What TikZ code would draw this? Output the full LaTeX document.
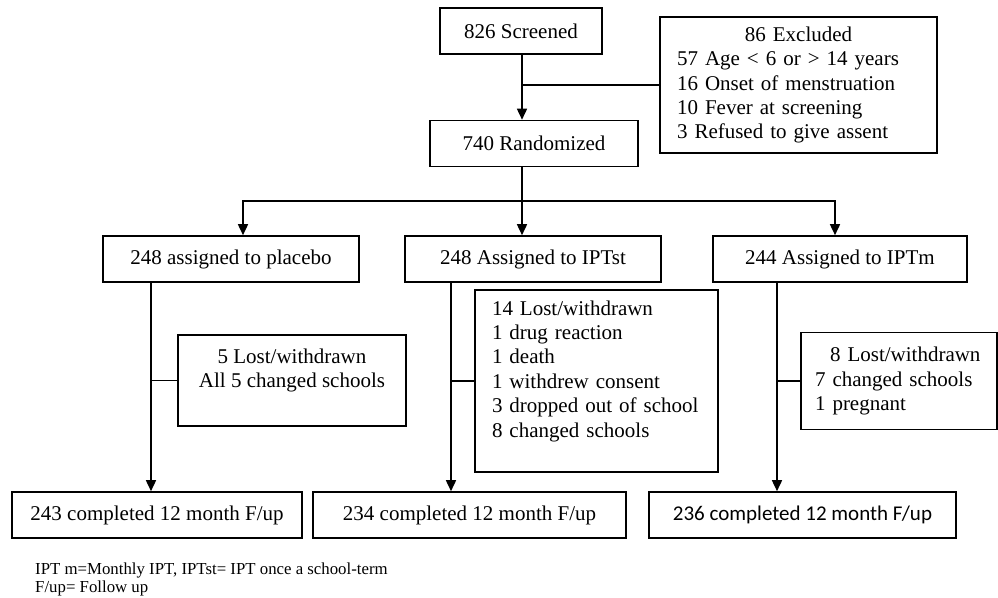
\documentclass[tikz,border=0pt]{standalone}
\usepackage{fontspec}
\setmainfont{Liberation Serif}
\newfontfamily\carlito{Carlito}
\usetikzlibrary{positioning,arrows.meta}

\begin{document}
\begin{tikzpicture}[
        x=1pt, y=-1pt,
        box/.style={draw, line width=1.6pt, inner sep=0pt, minimum height=46pt},
        listbox/.style={draw, line width=1.6pt, inner xsep=17pt, inner ysep=0pt, align=left},
        solidline/.style={line width=1.6pt},
        arrowline/.style={solidline, -{Triangle[length=11pt,width=10pt]}},
        font=\fontsize{21}{24.4}\selectfont
    ]
    \useasboundingbox (0,0) rectangle (998,597);

    % Screening and randomisation
    \node[box, minimum width=162pt] (screened) at (521,31) {826 Screened};
    \node[box, minimum width=208pt] (randomized) at (534,143.5) {740 Randomized};
    \node[listbox, text width=243pt, minimum height=136pt] (excluded) at (798.5,85)
        {\makebox[\linewidth][c]{86 Excluded}\\57 Age < 6 or > 14 years\\16 Onset of menstruation\\10 Fever at screening\\3 Refused to give assent};

    \coordinate (trunk) at (522,201);
    \draw[arrowline] (screened.south -| trunk) -- (randomized.north -| trunk);
    \draw[solidline] (excluded.west) -- (excluded.west -| trunk);

    % Arms
    \node[box, minimum width=256pt] (placebo) at (231,259) {248 assigned to placebo};
    \node[box, minimum width=256pt] (iptst) at (533,259) {248 Assigned to IPTst};
    \node[box, minimum width=254pt] (iptm) at (840,259) {244 Assigned to IPTm};

    \coordinate (splitL) at (243,201);
    \coordinate (splitR) at (835,201);
    \draw[arrowline] (randomized.south -| trunk) -- (iptst.north -| trunk);
    \foreach \c/\n in {splitL/placebo, splitR/iptm} {
            \draw[arrowline] (trunk) -| (\n.north -| \c);
        }

    % Lost to follow up
    \node[box, minimum width=228pt, minimum height=91pt, align=center] (lossplacebo) at (292,380.5)
        {5 Lost/withdrawn\\All 5 changed schools\\\mbox{}};
    \node[listbox, text width=209pt, minimum height=182pt] (lossiptst) at (596.5,381)
        {14 Lost/withdrawn\\1 drug reaction\\1 death\\1 withdrew consent\\3 dropped out of school\\8 changed schools\\\mbox{}};
    \node[listbox, inner xsep=14pt, text width=168pt, minimum height=97pt] (lossiptm) at (899,381)
        {\hspace*{15pt}8 Lost/withdrawn\\7 changed schools\\1 pregnant};

    % Completed
    \node[box, minimum width=290pt] (cplacebo) at (157,515) {243 completed 12 month F/up};
    \node[box, minimum width=313pt] (ciptst) at (469.5,515) {234 completed 12 month F/up};
    \node[box, minimum width=307pt, font={\carlito\fontsize{21}{24.4}\selectfont}] (ciptm) at (802.5,515) {236 completed 12 month F/up};

    % Follow up lines
    \coordinate (stemA) at (151,0);
    \coordinate (stemB) at (451,0);
    \coordinate (stemC) at (777,0);
    \foreach \s/\a/\l/\d in {stemA/placebo/lossplacebo/cplacebo, stemB/iptst/lossiptst/ciptst, stemC/iptm/lossiptm/ciptm} {
            \draw[arrowline] (\a.south -| \s) -- (\d.north -| \s);
            \draw[solidline] (\l.west) -- (\l.west -| \s);
        }

    % Footnote
    \node[anchor=west, align=left, inner sep=0pt, font=\fontsize{16.8}{18}\selectfont] (note) at (35,579)
        {IPT m=Monthly IPT, IPTst= IPT once a school-term\\F/up= Follow up};

\end{tikzpicture}
\end{document}
